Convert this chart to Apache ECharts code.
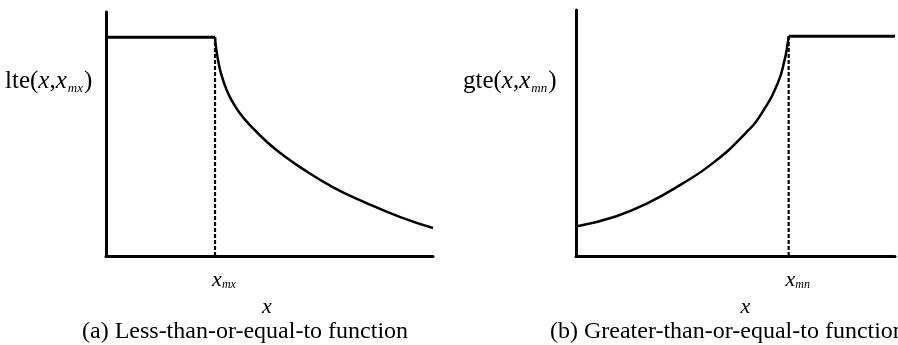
<!DOCTYPE html>
<html>
<head>
<meta charset="utf-8">
<style>
  html, body { margin: 0; padding: 0; background: #fff; }
  #chart { width: 898px; height: 345px; }
</style>
<script src="https://cdn.jsdelivr.net/npm/echarts@6/dist/echarts.min.js"></script>
</head>
<body>
<div id="chart"></div>
<script>
// (a) lte(x, x_mx): flat at 1 up to x_mx, then decays
const lteThreshold = 1;
const lteFlatX = [0, 1];
const lteFlatY = [1, 1];
const lteCurveX = [1.0, 1.01, 1.03, 1.06, 1.11, 1.16, 1.22, 1.32, 1.477, 1.63, 1.78, 2.08, 2.39, 2.70, 3.0];
const lteCurveY = [1.0, 0.95, 0.89, 0.825, 0.755, 0.705, 0.658, 0.598, 0.521, 0.459, 0.406, 0.315, 0.242, 0.178, 0.128];

// (b) gte(x, x_mn): rises up to x_mn, then flat at 1
const gteThreshold = 2;
const gteCurveX = [0, 0.373, 0.679, 0.982, 1.29, 1.60, 1.75, 1.90, 1.963, 1.985, 2.0];
const gteCurveY = [0.134, 0.180, 0.242, 0.324, 0.424, 0.562, 0.653, 0.790, 0.895, 0.95, 1.0];
const gteFlatX = [2, 3];
const gteFlatY = [1, 1];

const axisRange = [0, 3];

const zip = (xs, ys) => xs.map((x, i) => [x, ys[i]]);

const SERIF = '"Liberation Serif", "DejaVu Serif", serif';
const INK = '#000';

const labelRich = {
  up: { fontFamily: SERIF, fontSize: 25, color: INK },
  it: { fontFamily: SERIF, fontSize: 25, fontStyle: 'italic', color: INK },
  sub: { fontFamily: SERIF, fontSize: 13, fontStyle: 'italic', color: INK, padding: [14, 1, 0, 1] }
};
const tickRich = {
  it: { fontFamily: SERIF, fontSize: 22, fontStyle: 'italic', color: INK },
  sub: { fontFamily: SERIF, fontSize: 12, fontStyle: 'italic', color: INK, padding: [10, 0, 0, 0] }
};

function xAxisFor(gridIndex, threshold, subText, nameShift) {
  return {
    type: 'value', gridIndex, min: axisRange[0], max: axisRange[1], interval: 1,
    name: 'x', nameLocation: 'middle', nameGap: 33,
    nameTextStyle: { fontFamily: SERIF, fontSize: 22, fontStyle: 'italic', color: INK,
                     padding: nameShift > 0 ? [0, 0, 0, nameShift] : [0, -nameShift, 0, 0] },
    axisLine: { show: true, onZero: false, lineStyle: { color: INK, width: 3 } },
    axisTick: { show: false },
    splitLine: { show: false },
    axisLabel: {
      margin: 13, padding: [0, 0, 0, 18],
      showMinLabel: true, showMaxLabel: true,
      formatter: v => (v === threshold ? '{it|x}{sub|' + subText + '}' : ''),
      rich: tickRich
    }
  };
}
function yAxisFor(gridIndex, max) {
  return {
    type: 'value', gridIndex, min: 0, max,
    axisLine: { show: true, onZero: false, lineStyle: { color: INK, width: 3 } },
    axisTick: { show: false }, axisLabel: { show: false }, splitLine: { show: false }
  };
}
const solid = w => ({ color: INK, width: w, cap: 'butt', join: 'round' });
const captionStyle = { fontFamily: SERIF, fontSize: 24, fontWeight: 'normal', color: INK };

const option = {
  backgroundColor: '#fff',
  animation: false,
  title: [
    { text: '(a) Less-than-or-equal-to function', left: 77, top: 315, textStyle: captionStyle },
    { text: '(b) Greater-than-or-equal-to function', left: 545, top: 315, textStyle: captionStyle }
  ],
  grid: [
    { left: 106, top: 12, width: 327, bottom: 89 },
    { left: 576, top: 10, width: 327, bottom: 89 }
  ],
  xAxis: [xAxisFor(0, lteThreshold, 'mx', -5), xAxisFor(1, gteThreshold, 'mn', 20)],
  yAxis: [yAxisFor(0, 1.115), yAxisFor(1, 1.12)],
  graphic: [
    { type: 'text', left: 5, top: 69,
      style: { text: '{up|lte(}{it|x}{up|,}{it|x}{sub|mx}{up|)}', rich: labelRich } },
    { type: 'text', left: 463, top: 69,
      style: { text: '{up|gte(}{it|x}{up|,}{it|x}{sub|mn}{up|)}', rich: labelRich } }
  ],
  series: [
    { type: 'line', xAxisIndex: 0, yAxisIndex: 0, showSymbol: false, silent: true,
      data: zip(lteFlatX, lteFlatY), lineStyle: solid(3) },
    { type: 'line', xAxisIndex: 0, yAxisIndex: 0, showSymbol: false, silent: true,
      smooth: 0.5,
      data: zip(lteCurveX, lteCurveY), lineStyle: solid(2.5) },
    { type: 'line', xAxisIndex: 0, yAxisIndex: 0, showSymbol: false, silent: true,
      data: [[lteThreshold, 0], [lteThreshold, 1]],
      lineStyle: { color: INK, width: 2.2, type: [4, 2] } },

    { type: 'line', xAxisIndex: 1, yAxisIndex: 1, showSymbol: false, silent: true,
      smooth: 0.5,
      data: zip(gteCurveX, gteCurveY), lineStyle: solid(2.5) },
    { type: 'line', xAxisIndex: 1, yAxisIndex: 1, showSymbol: false, silent: true,
      data: zip(gteFlatX, gteFlatY), lineStyle: solid(3) },
    { type: 'line', xAxisIndex: 1, yAxisIndex: 1, showSymbol: false, silent: true,
      data: [[gteThreshold, 0], [gteThreshold, 1]],
      lineStyle: { color: INK, width: 2.2, type: [4, 2] } }
  ]
};

const chart = echarts.init(document.getElementById('chart'), null, { renderer: 'canvas' });
chart.setOption(option);
</script>
</body>
</html>
